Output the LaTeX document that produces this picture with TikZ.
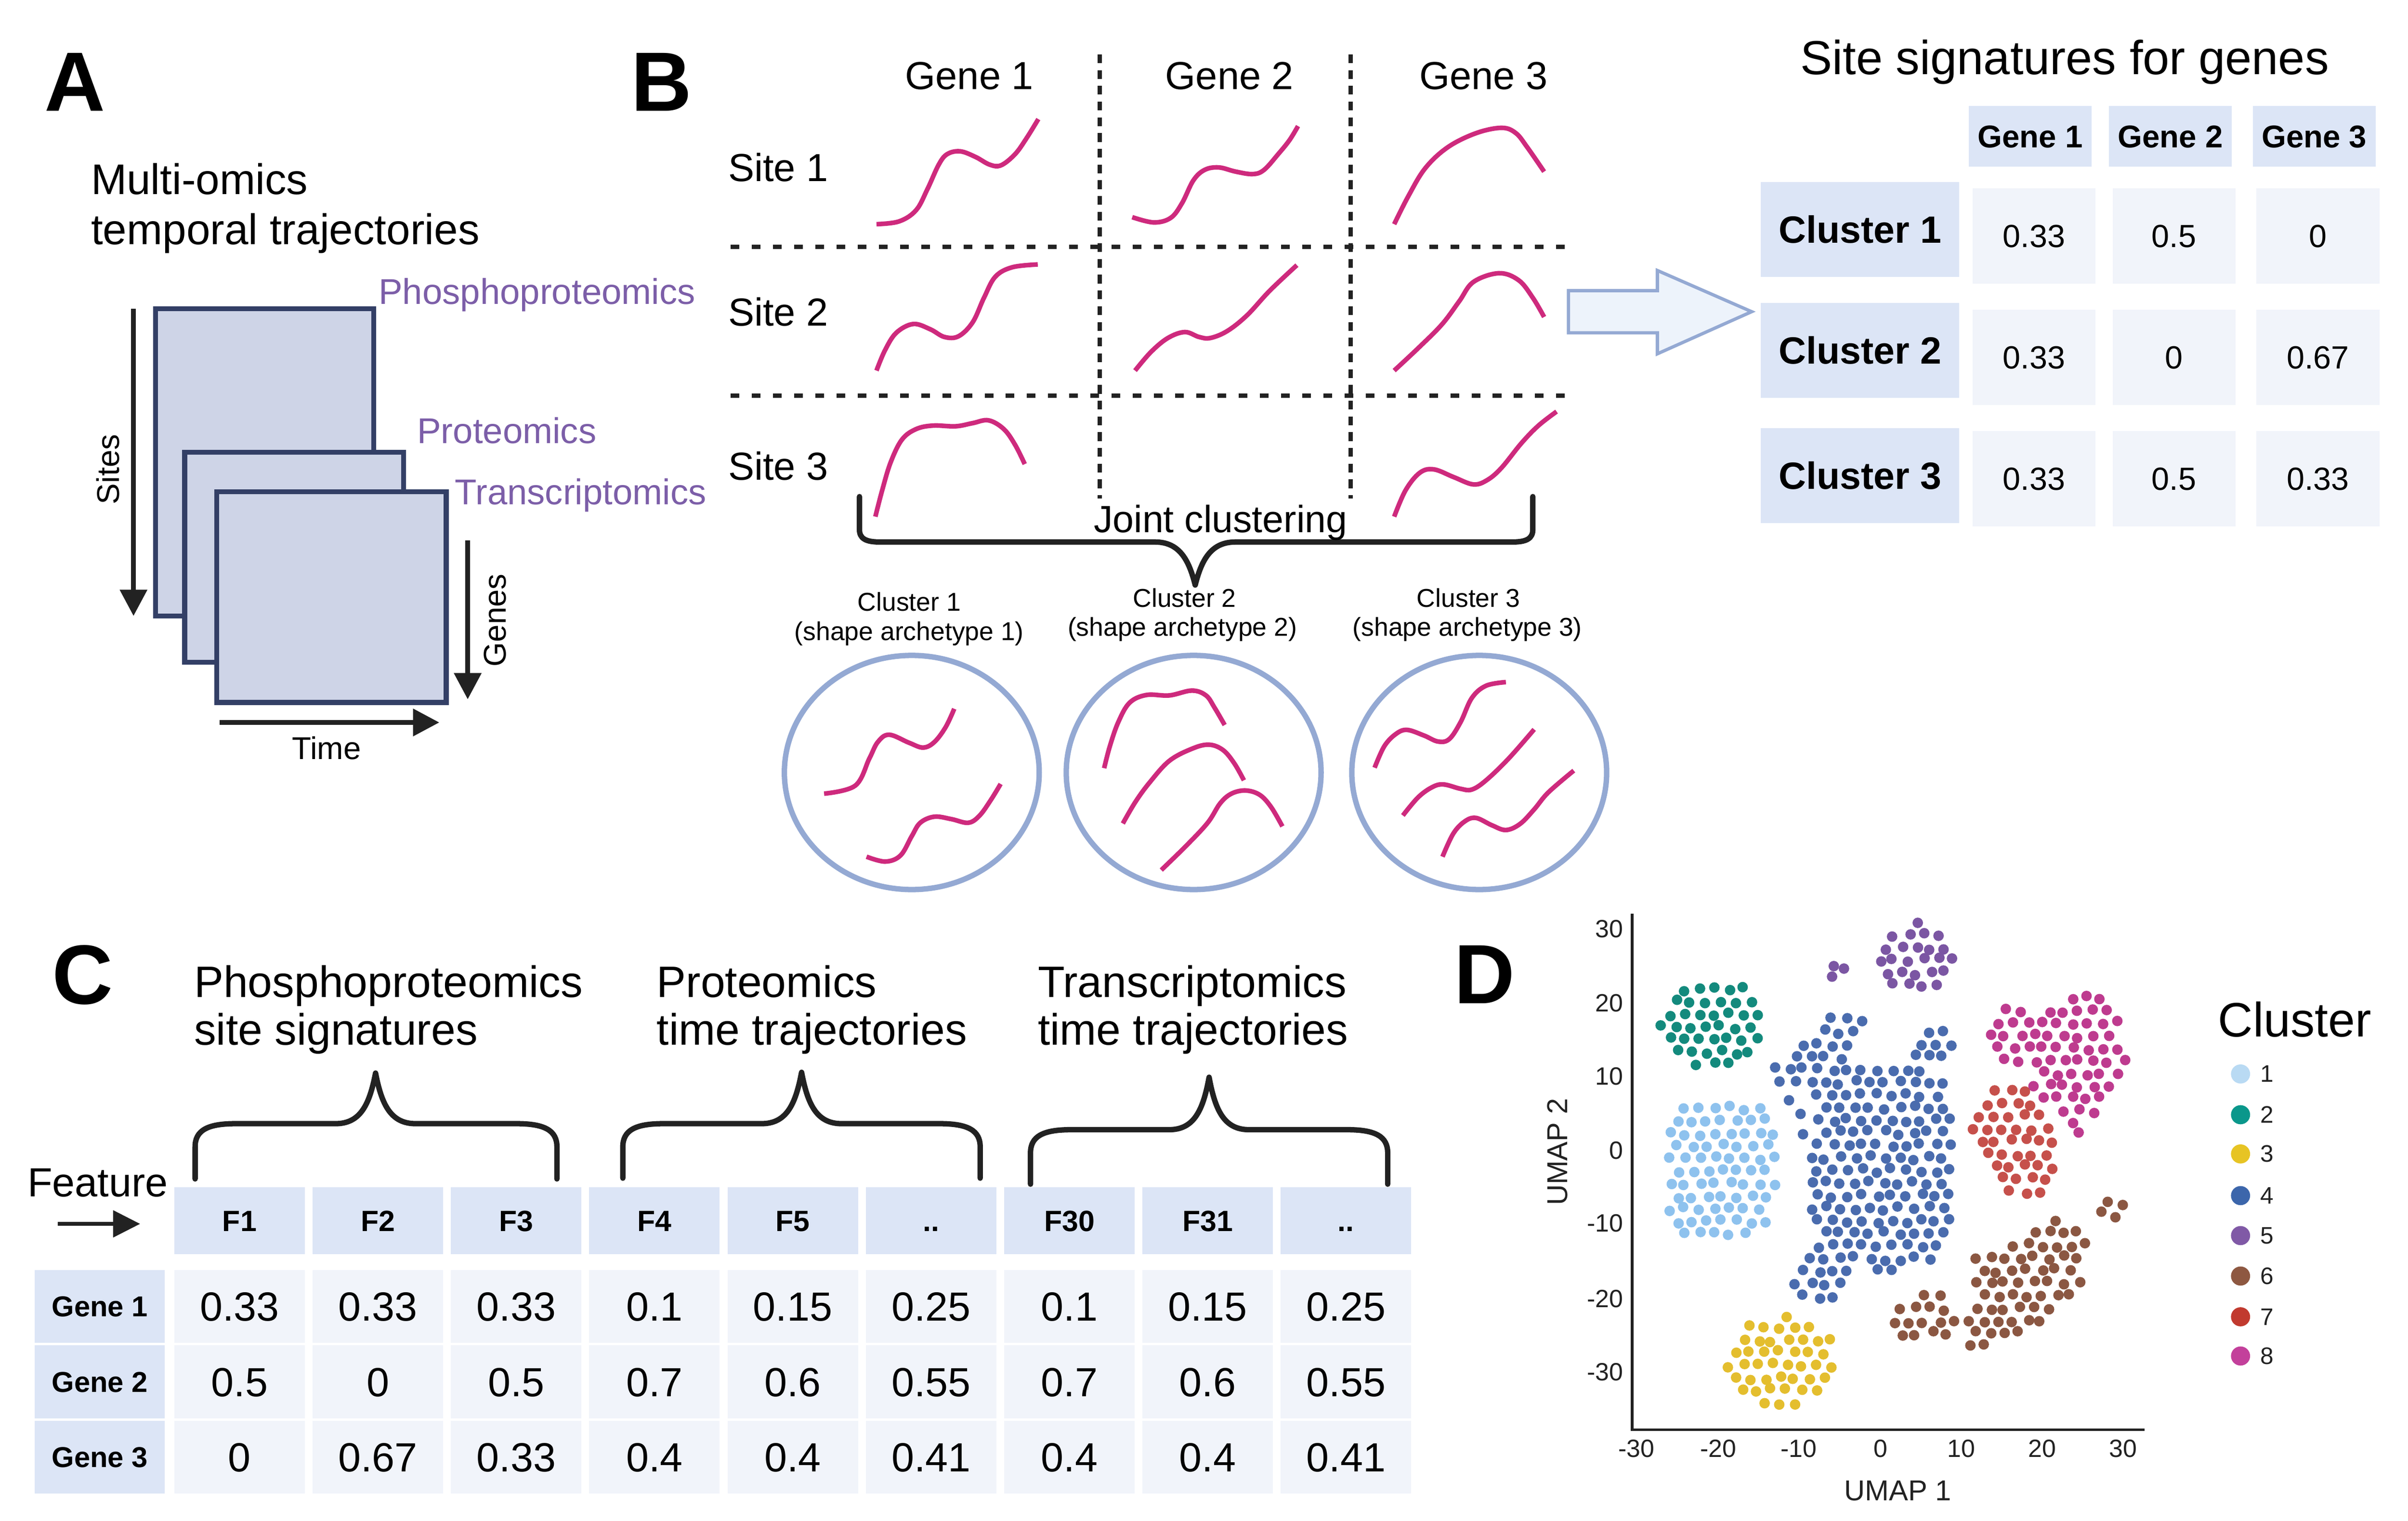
\documentclass[tikz,border=0pt]{standalone}
\usepackage{fontspec}
\setmainfont{Liberation Sans}
\setsansfont{Liberation Sans}
\usetikzlibrary{arrows.meta,shapes.geometric}
\newcommand\fsz[1]{\fontsize{#1}{#1}\selectfont}
\newcommand\dd{..}
\definecolor{mag}{HTML}{CE2A7D}
\definecolor{lblue}{HTML}{94A9D3}
\definecolor{navy}{HTML}{333F66}
\definecolor{lav}{HTML}{CED4E7}
\definecolor{purp}{HTML}{7C5EA8}
\definecolor{hdr}{HTML}{DCE5F6}
\definecolor{val}{HTML}{F1F4FA}
\definecolor{dk}{HTML}{222222}
\definecolor{arfill}{HTML}{EDF3FB}
\definecolor{c1}{HTML}{8EC2EE}
\definecolor{c2}{HTML}{138A7D}
\definecolor{c3}{HTML}{E4BE2E}
\definecolor{c4}{HTML}{4A6CAE}
\definecolor{c5}{HTML}{7B56A3}
\definecolor{c6}{HTML}{8B5742}
\definecolor{c7}{HTML}{C6504B}
\definecolor{c8}{HTML}{BE3B8F}
\definecolor{l1}{HTML}{B9DAF3}
\definecolor{l2}{HTML}{0A978B}
\definecolor{l3}{HTML}{E7C424}
\definecolor{l4}{HTML}{3C66AB}
\definecolor{l5}{HTML}{8059A6}
\definecolor{l6}{HTML}{8E5841}
\definecolor{l7}{HTML}{C13A2F}
\definecolor{l8}{HTML}{C3409B}

% jittered dot cloud in scatter coordinates; condition in \cond
\newcommand\cloud[5]{%
  \foreach \j in {0,...,#5}{%
    \foreach \i in {0,...,#4}{%
      \pgfmathsetmacro\cpx{#2+\i*42+21*mod(\j,2)+7*rand}%
      \pgfmathsetmacro\cpy{#3+\j*36+7*rand}%
      \pgfmathparse{\cond}%
      \ifdim\pgfmathresult pt>0.5pt
        \fill[#1] ({1067.3+\cpx*0.2269},{588.4+\cpy*0.2269}) circle[radius=0.034cm];
      \fi
    }%
  }%
}
\newcommand\zdot[3]{\fill[#1] ({1067.3+#2*0.2269},{588.4+#3*0.2269}) circle[radius=0.034cm];}

% brace: x1,x2,xtip,yend,yh,ytip,sign,cornerdx,cornerdy
\newcommand\xbrace[9]{%
  \draw[brace] ({#1},{#4}) -- ({#1},{#5+(#7)*(#9)})
    .. controls ({#1},{#5+(#7)*(#9)*0.3}) and ({#1+(#8)*0.3},{#5}) .. ({#1+#8},{#5})
    -- ({#3-26},{#5}) .. controls ({#3-10},{#5}) and ({#3-4},{#5-(#7)*12}) .. ({#3},{#6})
    .. controls ({#3+4},{#5-(#7)*12}) and ({#3+10},{#5}) .. ({#3+26},{#5})
    -- ({#2-#8},{#5}) .. controls ({#2-(#8)*0.3},{#5}) and ({#2},{#5+(#7)*(#9)*0.3}) .. ({#2},{#5+(#7)*(#9)})
    -- ({#2},{#4});}

\begin{document}
\begin{tikzpicture}[x=0.01cm,y=-0.01cm,
  declare function={ine(\qa,\qb,\qc,\qd,\qe,\qf,\qg,\qh)=(min(abs(((\qa-\qc)*cos(\qg)+(\qb-\qd)*sin(\qg))/\qe)+0.001,3))^\qh+(min(abs(((\qb-\qd)*cos(\qg)-(\qa-\qc)*sin(\qg))/\qf)+0.001,3))^\qh<1;},
  txt/.style={inner sep=0pt, outer sep=0pt},
  panel/.style={txt, anchor=base west, font=\bfseries\fsz{15.5pt}},
  curve/.style={mag, line width=0.85pt},
  axarrow/.style={dk, line width=0.85pt, -{Triangle[width=1.72mm,length=1.7mm]}},
  omrect/.style={draw=navy, fill=lav, line width=0.9pt, inner sep=0pt, rectangle},
  omlab/.style={txt, anchor=base west, text=purp, font=\fsz{6.6pt}},
  vdash/.style={dk, line width=0.8pt, dash pattern=on 1.62pt off 1.28pt},
  hdash/.style={dk, line width=0.8pt, dash pattern=on 1.6pt off 2.3pt},
  brace/.style={dk, line width=1pt, line cap=round, line join=round},
  clell/.style={draw=lblue, line width=1pt, ellipse, inner sep=0pt, minimum width=16.5mm, minimum height=15.16mm},
  thdr/.style={fill=hdr, inner sep=0pt, minimum width=7.96mm, minimum height=3.93mm, font=\bfseries\fsz{5.8pt}, text height=4.15pt, text depth=0pt},
  tclu/.style={fill=hdr, inner sep=0pt, minimum width=12.85mm, minimum height=6.13mm, font=\bfseries\fsz{7pt}, text height=5pt, text depth=0pt},
  tval/.style={fill=val, inner sep=0pt, minimum width=7.96mm, minimum height=6.17mm, font=\fsz{5.9pt}, text height=4.2pt, text depth=0pt},
  chdr/.style={fill=hdr, inner sep=0pt, minimum width=8.45mm, minimum height=4.32mm, font=\bfseries\fsz{5.4pt}, text height=3.87pt, text depth=0pt},
  crow/.style={fill=hdr, inner sep=0pt, minimum width=8.42mm, minimum height=4.72mm, font=\bfseries\fsz{5.3pt}, text height=3.8pt, text depth=0pt},
  cval/.style={fill=val, inner sep=0pt, minimum width=8.45mm, minimum height=4.72mm, font=\fsz{7.5pt}, text height=5.37pt, text depth=0pt},
  tick/.style={txt, font=\fsz{4.6pt}, text=dk},
]
\useasboundingbox (0,0) rectangle (1560,985.2);

%================ Panel A =================
\node[panel] (lA) at (29,72) {A};
\node[txt, anchor=base west, font=\fsz{7.9pt}] (tA1) at (59,126) {Multi-omics};
\node[txt, anchor=base west, font=\fsz{7.9pt}] (tA2) at (59,158.2) {temporal trajectories};
\node[omrect, minimum width=14.12mm, minimum height=19.9mm] (rP) at (171.4,299.5) {};
\node[omrect, minimum width=14.18mm, minimum height=13.6mm] (rPr) at (190.6,361) {};
\node[omrect, minimum width=14.85mm, minimum height=13.65mm] (rT) at (214.75,386.75) {};
\node[omlab] (lP) at (245.3,197) {Phosphoproteomics};
\node[omlab] (lPr) at (270.3,287.2) {Proteomics};
\node[omlab] (lT) at (294.7,326.9) {Transcriptomics};
\coordinate (s0) at (86.5,200); \coordinate (s1) at (86.5,399);
\draw[axarrow] (s0) -- (s1);
\node[txt, rotate=90, font=\fsz{5.8pt}] (tSites) at (70,304) {Sites};
\coordinate (g0) at (303,350); \coordinate (g1) at (303,453);
\draw[axarrow] (g0) -- (g1);
\node[txt, rotate=90, font=\fsz{5.8pt}] (tGenes) at (320.7,401.8) {Genes};
\coordinate (ti0) at (142.4,468); \coordinate (ti1) at (284.6,468);
\draw[axarrow] (ti0) -- (ti1);
\node[txt, anchor=base, font=\fsz{5.8pt}] (tTime) at (211.6,492) {Time};

%================ Panel B =================
\node[panel] (lB) at (409,72) {B};
\node[txt, anchor=base, font=\fsz{7.2pt}] (bg1) at (628,57.9) {Gene 1};
\node[txt, anchor=base, font=\fsz{7.2pt}] (bg2) at (796.5,57.9) {Gene 2};
\node[txt, anchor=base, font=\fsz{7.2pt}] (bg3) at (961,57.9) {Gene 3};
\node[txt, anchor=base west, font=\fsz{7.2pt}] (bs1) at (471.8,117.5) {Site 1};
\node[txt, anchor=base west, font=\fsz{7.2pt}] (bs2) at (471.8,211) {Site 2};
\node[txt, anchor=base west, font=\fsz{7.2pt}] (bs3) at (471.8,310.8) {Site 3};
\coordinate (v1a) at (712.3,35.2); \coordinate (v1b) at (712.3,323);
\coordinate (v2a) at (875,35.2); \coordinate (v2b) at (875,323);
\coordinate (h1a) at (473.3,160); \coordinate (h1b) at (1014,160);
\coordinate (h2a) at (473.3,256.4); \coordinate (h2b) at (1014,256.4);
\draw[vdash] (v1a) -- (v1b);
\draw[vdash] (v2a) -- (v2b);
\draw[hdash] (h1a) -- (h1b);
\draw[hdash] (h2a) -- (h2b);
\begin{scope}[shift={(465.2,0)},xscale=0.36653,yscale=0.2269]
\draw[curve] plot[smooth,tension=0.6] coordinates {(280,640) (320,632) (350,600) (370,540) (390,470) (405,440) (428,432) (455,448) (480,470) (500,472) (525,440) (545,395) (566,340)};
\draw[curve] plot[smooth,tension=0.6] coordinates {(732,620) (770,635) (800,622) (820,580) (840,515) (860,485) (885,478) (915,490) (945,497) (965,485) (990,440) (1010,400) (1025,360)};
\draw[curve] plot[smooth,tension=0.6] coordinates {(1195,640) (1220,560) (1250,480) (1290,420) (1340,380) (1385,365) (1410,380) (1430,420) (1460,490)};
\draw[curve] plot[smooth,tension=0.6] coordinates {(280,1058) (295,1000) (315,950) (345,925) (375,940) (400,962) (425,960) (450,920) (470,850) (490,790) (520,763) (565,755)};
\draw[curve] plot[smooth,tension=0.6] coordinates {(737,1058) (765,1005) (795,965) (825,948) (850,962) (870,965) (900,945) (935,900) (975,830) (1023,757)};
\draw[curve] plot[smooth,tension=0.6] coordinates {(1195,1058) (1240,990) (1280,925) (1310,860) (1335,805) (1380,780) (1415,800) (1440,850) (1460,905)};
\draw[curve] plot[smooth,tension=0.6] coordinates {(278,1475) (290,1400) (305,1320) (325,1255) (350,1225) (380,1215) (420,1217) (450,1208) (478,1200) (505,1225) (525,1270) (542,1325)};
\draw[curve] plot[smooth,tension=0.6] coordinates {(1195,1475) (1215,1400) (1240,1350) (1265,1340) (1300,1362) (1335,1383) (1360,1370) (1385,1335) (1420,1265) (1450,1215) (1482,1175)};
\end{scope}
\xbrace{556.8}{993}{774.3}{321.7}{351.1}{379}{-1}{13}{8}
\node[txt, anchor=base, font=\fsz{7pt}] (joint) at (790.7,344.9) {Joint clustering};
\node[txt, anchor=base, font=\fsz{4.75pt}] (cl1a) at (589,395.8) {Cluster 1};
\node[txt, anchor=base, font=\fsz{4.75pt}] (cl1b) at (589,414.7) {(shape archetype 1)};
\node[txt, anchor=base, font=\fsz{4.75pt}] (cl2a) at (767.4,393.2) {Cluster 2};
\node[txt, anchor=base, font=\fsz{4.75pt}] (cl2b) at (766,412) {(shape archetype 2)};
\node[txt, anchor=base, font=\fsz{4.75pt}] (cl3a) at (951.3,393.2) {Cluster 3};
\node[txt, anchor=base, font=\fsz{4.75pt}] (cl3b) at (950.6,412) {(shape archetype 3)};
\node[clell] (e1) at (590.7,500.4) {};
\node[clell] (e2) at (773.3,500.4) {};
\node[clell] (e3) at (958.3,500.4) {};
\begin{scope}[shift={(478.9,342.1)},xscale=0.36653,yscale=0.15709]
\draw[curve] plot[smooth,tension=0.6] coordinates {(150,1095) (205,1062) (230,950) (245,882) (265,852) (300,885) (325,905) (345,882) (365,820) (380,745)};
\draw[curve] plot[smooth,tension=0.6] coordinates {(225,1355) (258,1375) (285,1350) (305,1270) (320,1215) (345,1190) (375,1200) (405,1215) (425,1185) (445,1120) (462,1055)};
\draw[curve] plot[smooth,tension=0.6] coordinates {(645,990) (655,900) (670,800) (690,720) (720,688) (760,690) (800,670) (825,690) (840,740) (858,812)};
\draw[curve] plot[smooth,tension=0.6] coordinates {(678,1218) (700,1130) (725,1050) (760,960) (800,910) (830,893) (855,915) (875,970) (892,1040)};
\draw[curve] plot[smooth,tension=0.6] coordinates {(746,1410) (790,1310) (828,1215) (850,1135) (870,1095) (895,1082) (920,1100) (940,1150) (960,1230)};
\draw[curve] plot[smooth,tension=0.6] coordinates {(1123,988) (1140,900) (1160,850) (1180,832) (1210,855) (1235,880) (1255,870) (1275,800) (1295,700) (1320,650) (1355,635)};
\draw[curve] plot[smooth,tension=0.6] coordinates {(1173,1185) (1200,1110) (1225,1068) (1245,1057) (1275,1075) (1295,1078) (1320,1040) (1360,950) (1405,830)};
\draw[curve] plot[smooth,tension=0.6] coordinates {(1243,1355) (1262,1260) (1282,1210) (1302,1195) (1330,1225) (1355,1245) (1380,1220) (1405,1160) (1430,1090) (1475,1000)};
\end{scope}

% big arrow
\draw[draw=lblue, fill=arfill, line width=0.6pt, line join=miter]
  (1016.1,188.3) -- (1073.7,188.3) -- (1073.7,175.2) -- (1134.8,201.9) -- (1073.7,229.2) -- (1073.7,215.6) -- (1016.1,215.6) -- cycle;

%================ Site signature table =================
\node[txt, anchor=base, font=\fsz{8.8pt}] (sigt) at (1337.6,48.3) {Site signatures for genes};
\node[thdr] (sg1) at (1315.2,88.2) {Gene 1};
\node[thdr] (sg2) at (1406.1,88.2) {Gene 2};
\node[thdr] (sg3) at (1499.2,88.2) {Gene 3};
\node[tclu] (sc1) at (1205,148.6) {Cluster 1};
\node[tclu] (sc2) at (1205,227) {Cluster 2};
\node[tclu] (sc3) at (1205,308) {Cluster 3};
\node[tval] (s11) at (1317.7,152.9) {0.33};
\node[tval] (s12) at (1408.4,152.9) {0.5};
\node[tval] (s13) at (1501.6,152.9) {0};
\node[tval] (s21) at (1317.7,231.5) {0.33};
\node[tval] (s22) at (1408.4,231.5) {0};
\node[tval] (s23) at (1501.6,231.5) {0.67};
\node[tval] (s31) at (1317.7,310) {0.33};
\node[tval] (s32) at (1408.4,310) {0.5};
\node[tval] (s33) at (1501.6,310) {0.33};

%================ Panel C =================
\node[panel] (lC) at (34,650.5) {C};
\node[txt, anchor=base west, font=\fsz{8.1pt}] (ct1a) at (125.8,645.9) {Phosphoproteomics};
\node[txt, anchor=base west, font=\fsz{8.1pt}] (ct1b) at (125.8,676.8) {site signatures};
\node[txt, anchor=base west, font=\fsz{8.1pt}] (ct2a) at (425.5,645.9) {Proteomics};
\node[txt, anchor=base west, font=\fsz{8.1pt}] (ct2b) at (425.5,676.8) {time trajectories};
\node[txt, anchor=base west, font=\fsz{8.1pt}] (ct3a) at (672.4,645.9) {Transcriptomics};
\node[txt, anchor=base west, font=\fsz{8.1pt}] (ct3b) at (672.4,676.8) {time trajectories};
\xbrace{126.4}{360.8}{243.3}{763.7}{727.9}{695.1}{1}{26}{15}
\xbrace{403.5}{635}{519.3}{763.2}{727.9}{694.6}{1}{26}{15}
\xbrace{667.6}{899}{783.3}{767.1}{731.8}{697.8}{1}{26}{15}
\node[txt, anchor=base west, font=\fsz{7.5pt}] (feat) at (17.8,775) {Feature};
\coordinate (fa0) at (37.4,792.8); \coordinate (fa1) at (90.8,792.8);
\draw[dk, line width=0.75pt, -{Triangle[width=1.7mm,length=1.75mm]}] (fa0) -- (fa1);
\foreach \lab [count=\k from 0] in {F1,F2,F3,F4,F5,\dd,F30,F31,\dd}{
  \pgfmathsetmacro\cx{155.2+\k*89.6}
  \node[chdr] (ch\k) at (\cx,790.8) {\lab};
}
\node[crow] (cr1) at (64.7,846.3) {Gene 1};
\node[crow] (cr2) at (64.7,895.1) {Gene 2};
\node[crow] (cr3) at (64.7,943.9) {Gene 3};
\foreach \v [count=\k from 0] in {0.33,0.33,0.33,0.1,0.15,0.25,0.1,0.15,0.25}{
  \pgfmathsetmacro\cx{155.2+\k*89.6}
  \node[cval] (ca\k) at (\cx,846.3) {\v};
}
\foreach \v [count=\k from 0] in {0.5,0,0.5,0.7,0.6,0.55,0.7,0.6,0.55}{
  \pgfmathsetmacro\cx{155.2+\k*89.6}
  \node[cval] (cb\k) at (\cx,895.1) {\v};
}
\foreach \v [count=\k from 0] in {0,0.67,0.33,0.4,0.4,0.41,0.4,0.4,0.41}{
  \pgfmathsetmacro\cx{155.2+\k*89.6}
  \node[cval] (cc\k) at (\cx,943.9) {\v};
}

%================ Panel D =================
\node[panel] (lD) at (942,650.1) {D};
\coordinate (ax0) at (1057.4,591.7);
\coordinate (axO) at (1057.4,926.1);
\coordinate (ax1) at (1389.3,926.1);
\draw[dk, line width=0.5pt] (ax0) -- (axO) -- (ax1);
\foreach \v/\xx in {-30/1060.2,-20/1113.2,-10/1165.3,0/1218.3,10/1270.5,20/1323.1,30/1375.3}
  \node[tick, anchor=base] (xt\v) at (\xx,943.9) {\v};
\foreach \v/\yy in {30/601.7,20/649.8,10/697.2,0/745.4,-10/792.5,-20/841.2,-30/888.9}
  \node[tick, anchor=east] (yt\v) at (1051.5,\yy) {\v};
\node[txt, anchor=base, font=\fsz{5.3pt}, text=dk] (umap1) at (1229.6,971.9) {UMAP 1};
\node[txt, rotate=90, font=\fsz{5.3pt}, text=dk] (umap2) at (1009,746.2) {UMAP 2};

\pgfmathsetseed{11}
% cluster 2
\def\cond{ine(\cpx,\cpy,185,325,150,130,0,2)}
\cloud{c2}{40}{195}{8}{8}
% cluster 5
\def\cond{ine(\cpx,\cpy,762,142,122,102,0,2)}
\cloud{c5}{640}{40}{7}{6}
\zdot{c5}{532}{165}\zdot{c5}{561}{172}\zdot{c5}{527}{195}
% cluster 8
\def\cond{ine(\cpx,\cpy,1225,425,140,190,0,2) || ine(\cpx,\cpy,1050,370,70,90,0,2)}
\cloud{c8}{980}{220}{10}{12}
\zdot{c8}{1231}{640}
% cluster 7
\def\cond{ine(\cpx,\cpy,1050,655,180,115,70.5,2) && (ine(\cpx,\cpy,1225,425,140,190,0,2)+ine(\cpx,\cpy,1050,370,70,90,0,2) < 0.5)}
\cloud{c7}{930}{485}{6}{10}
% cluster 1
\def\cond{ine(\cpx,\cpy,210,745,162,207,0,3)}
\cloud{c1}{45}{535}{8}{12}
% cluster 4
\def\cond{ine(\cpx,\cpy,670,735,205,300,0,4) || ine(\cpx,\cpy,470,440,130,55,-20,2) || ine(\cpx,\cpy,560,340,75,60,0,2) || ine(\cpx,\cpy,815,390,65,55,0,2) || ine(\cpx,\cpy,510,1040,120,75,133,2)}
\cloud{c4}{340}{280}{13}{24}
\zdot{c4}{404}{548}\zdot{c4}{437}{587}\zdot{c4}{444}{645}
% cluster 3
\def\cond{ine(\cpx,\cpy,385,1295,157,135,0,2)}
\cloud{c3}{230}{1160}{8}{8}
% cluster 6
\def\cond{ine(\cpx,\cpy,1085,1070,225,120,-45,2) || ine(\cpx,\cpy,970,1025,55,40,0,2) || ine(\cpx,\cpy,800,1175,95,80,0,2)}
\cloud{c6}{705}{890}{13}{10}
\zdot{c6}{1314}{838}\zdot{c6}{1357}{847}\zdot{c6}{1296}{866}\zdot{c6}{1336}{882}\zdot{c6}{922}{1248}\zdot{c6}{960}{1245}

% legend
\node[txt, anchor=base west, font=\fsz{8.9pt}] (legt) at (1437,671.6) {Cluster};
\foreach \k/\yy in {1/695.7,2/722.1,3/747.5,4/774.5,5/800.4,6/826.6,7/853,8/878.4}{
  \fill[l\k] (1451.5,\yy) circle[radius=0.062cm];
  \node[tick, anchor=west, font=\fsz{4.4pt}] (lg\k) at (1464.4,\yy) {\k};
}
\end{tikzpicture}
\end{document}
